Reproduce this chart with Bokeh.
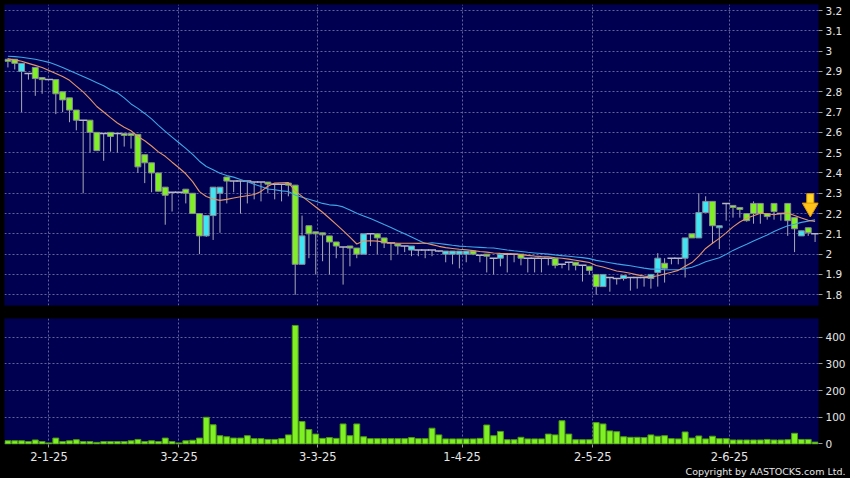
import pandas as pd
from bokeh.plotting import figure
from bokeh.layouts import column
from bokeh.models import (ColumnDataSource, FixedTicker, CustomJSTickFormatter,
                          Range1d, Title)
from bokeh.embed import file_html
from bokeh.resources import INLINE

# ---------------- data ----------------
open_ = [2.96, 2.96, 2.90, 2.89, 2.92, 2.87, 2.86, 2.86, 2.80, 2.77,
         2.71, 2.66, 2.66, 2.60, 2.595, 2.60, 2.595, 2.595, 2.595, 2.59,
         2.49, 2.45, 2.40, 2.33, 2.305, 2.305, 2.32, 2.30, 2.20, 2.09,
         2.19, 2.30, 2.38, 2.36, 2.36, 2.36, 2.355, 2.355, 2.355, 2.345,
         2.345, 2.35, 2.34, 1.95, 2.14, 2.11, 2.105, 2.09, 2.06, 2.035,
         2.04, 2.03, 2.00, 2.10, 2.10, 2.08, 2.055, 2.05, 2.04, 2.02,
         2.02, 2.02, 2.02, 2.015, 2.00, 2.00, 2.00, 2.00, 2.015, 1.995,
         2.00, 1.98, 1.98, 2.00, 2.00, 2.00, 1.98, 1.98, 1.98, 1.98,
         1.98, 1.95, 1.96, 1.96, 1.945, 1.94, 1.90, 1.84, 1.885, 1.88,
         1.88, 1.885, 1.885, 1.885, 1.88, 1.91, 1.955, 1.98, 1.98, 1.98,
         2.10, 2.08, 2.205, 2.26, 2.13, 2.25, 2.24, 2.23, 2.20, 2.25,
         2.25, 2.20, 2.25, 2.20, 2.25, 2.18, 2.09, 2.13, 2.10]
high = [2.965, 2.96, 2.94, 2.89, 2.92, 2.87, 2.86, 2.86, 2.80, 2.77,
        2.71, 2.66, 2.66, 2.60, 2.595, 2.60, 2.595, 2.595, 2.595, 2.59,
        2.49, 2.45, 2.40, 2.33, 2.305, 2.305, 2.32, 2.30, 2.20, 2.19,
        2.33, 2.33, 2.38, 2.36, 2.36, 2.36, 2.355, 2.355, 2.355, 2.345,
        2.345, 2.35, 2.34, 2.19, 2.14, 2.11, 2.105, 2.09, 2.06, 2.035,
        2.04, 2.03, 2.10, 2.10, 2.10, 2.08, 2.055, 2.05, 2.04, 2.04,
        2.02, 2.02, 2.02, 2.015, 2.015, 2.015, 2.015, 2.015, 2.015, 1.995,
        2.00, 1.98, 2.00, 2.00, 2.00, 2.00, 1.98, 1.98, 1.98, 1.98,
        1.98, 1.95, 1.96, 1.96, 1.945, 1.94, 1.90, 1.90, 1.885, 1.88,
        1.895, 1.885, 1.885, 1.885, 1.90, 2.005, 1.98, 1.98, 1.98, 2.08,
        2.10, 2.30, 2.285, 2.26, 2.14, 2.25, 2.24, 2.23, 2.20, 2.26,
        2.25, 2.20, 2.25, 2.20, 2.25, 2.18, 2.115, 2.13, 2.10]
low = [2.92, 2.91, 2.70, 2.86, 2.78, 2.79, 2.86, 2.69, 2.70, 2.65,
       2.61, 2.30, 2.50, 2.51, 2.46, 2.505, 2.50, 2.53, 2.52, 2.40,
       2.35, 2.305, 2.31, 2.145, 2.21, 2.30, 2.25, 2.20, 2.00, 2.085,
       2.07, 2.105, 2.25, 2.305, 2.20, 2.25, 2.27, 2.26, 2.30, 2.27,
       2.26, 2.285, 1.80, 1.95, 1.98, 1.90, 1.965, 1.90, 1.98, 1.85,
       1.94, 1.98, 2.00, 2.04, 2.00, 2.03, 1.97, 2.00, 2.01, 1.99,
       1.99, 1.98, 1.99, 2.01, 1.96, 1.95, 1.93, 1.96, 1.995, 1.96,
       1.91, 1.90, 1.94, 1.91, 1.96, 1.945, 1.91, 1.91, 1.91, 1.945,
       1.93, 1.93, 1.92, 1.92, 1.865, 1.90, 1.80, 1.84, 1.815, 1.85,
       1.87, 1.82, 1.83, 1.84, 1.83, 1.84, 1.86, 1.95, 1.95, 1.885,
       2.08, 2.08, 2.205, 2.05, 2.025, 2.165, 2.18, 2.18, 2.16, 2.15,
       2.15, 2.17, 2.17, 2.165, 2.09, 2.01, 2.09, 2.09, 2.06]
close_ = [2.95, 2.94, 2.94, 2.89, 2.865, 2.86, 2.86, 2.79, 2.76, 2.71,
          2.66, 2.66, 2.60, 2.51, 2.595, 2.58, 2.595, 2.585, 2.585, 2.43,
          2.45, 2.40, 2.31, 2.29, 2.305, 2.305, 2.30, 2.20, 2.09, 2.19,
          2.33, 2.33, 2.36, 2.36, 2.36, 2.36, 2.355, 2.355, 2.345, 2.345,
          2.345, 2.34, 1.95, 2.09, 2.10, 2.10, 2.095, 2.06, 2.04, 2.035,
          2.03, 2.00, 2.10, 2.10, 2.08, 2.055, 2.055, 2.04, 2.04, 2.04,
          2.02, 2.02, 2.02, 2.015, 2.015, 2.015, 2.015, 2.015, 2.00, 1.995,
          1.99, 1.98, 2.00, 2.00, 2.00, 1.98, 1.98, 1.98, 1.98, 1.98,
          1.945, 1.95, 1.96, 1.945, 1.945, 1.92, 1.84, 1.90, 1.885, 1.88,
          1.895, 1.885, 1.885, 1.885, 1.90, 1.98, 1.93, 1.98, 1.98, 2.08,
          2.08, 2.205, 2.26, 2.14, 2.14, 2.25, 2.23, 2.22, 2.165, 2.20,
          2.20, 2.185, 2.21, 2.20, 2.165, 2.125, 2.115, 2.105, 2.10]
volume = [12, 12, 12, 9, 15, 9, 4, 22, 9, 12,
          16, 9, 9, 6, 9, 9, 9, 9, 12, 17,
          9, 12, 9, 22, 9, 4, 12, 14, 22, 100,
          72, 31, 27, 22, 22, 31, 20, 20, 17, 17,
          20, 34, 444, 84, 54, 37, 21, 24, 21, 75,
          31, 75, 27, 20, 20, 20, 20, 20, 20, 24,
          20, 20, 59, 34, 19, 19, 19, 19, 19, 21,
          71, 31, 47, 16, 16, 25, 19, 19, 19, 37,
          34, 87, 37, 16, 16, 16, 80, 75, 49, 46,
          27, 25, 25, 24, 34, 29, 31, 20, 19, 45,
          22, 30, 19, 29, 20, 20, 15, 15, 15, 15,
          15, 17, 15, 15, 16, 40, 17, 17, 7]
# moving-average values read off the chart where the window is not yet full
ma10_head = [2.962, 2.957, 2.95, 2.94, 2.93, 2.92, 2.905, 2.89, 2.875]
ma20_head = [2.975, 2.973, 2.97, 2.965, 2.96, 2.953, 2.945, 2.933, 2.92,
             2.905, 2.89, 2.875, 2.86, 2.845, 2.83, 2.81, 2.795, 2.77, 2.74]

date_tick_pos = [6, 25, 45.3, 66.4, 85.5, 105.5]
date_tick_labels = ["2-1-25", "3-2-25", "3-3-25", "1-4-25", "2-5-25", "2-6-25"]
price_ticks = [1.8, 1.9, 2.0, 2.1, 2.2, 2.3, 2.4, 2.5, 2.6, 2.7, 2.8, 2.9,
               3.0, 3.1, 3.2]
volume_ticks = [0, 100, 200, 300, 400]

# ---------------- styling ----------------
NAVY = "#000050"
GRID = "#62629A"
TXT = "#E6E6E6"
GREEN = "#7FF024"
CYAN = "#3DE6F2"
OUTLINE = "#8A8A96"
WICK = "#A8A8B8"
MA10_C = "#E4956A"
MA20_C = "#3FA6E6"
FONT = "DejaVu Sans"

n = len(close_)
idx = list(range(n))
cs = pd.Series(close_, dtype=float)
ma10 = cs.rolling(10).mean().tolist()
ma20 = cs.rolling(20).mean().tolist()
ma10[:len(ma10_head)] = ma10_head
ma20[:len(ma20_head)] = ma20_head

body = [(i, o, c) for i, o, c in zip(idx, open_, close_) if o != c]
doji = [(i, c) for i, o, c in zip(idx, open_, close_) if o == c]
body_src = ColumnDataSource(dict(
    x=[b[0] for b in body],
    top=[max(b[1], b[2]) for b in body],
    bottom=[min(b[1], b[2]) for b in body],
    color=[CYAN if b[2] > b[1] else GREEN for b in body]))
doji_src = ColumnDataSource(dict(x=[d[0] for d in doji], y=[d[1] for d in doji]))
wick_src = ColumnDataSource(dict(x=idx, high=high, low=low))
ma_src = ColumnDataSource(dict(x=idx, ma10=ma10, ma20=ma20))
vol_src = ColumnDataSource(dict(x=idx, v=volume))

xr = Range1d(-0.5, n - 0.5)


def style(fig):
    fig.background_fill_color = NAVY
    fig.border_fill_color = "black"
    fig.outline_line_color = None
    for g in (fig.xgrid, fig.ygrid):
        g.grid_line_color = GRID
        g.grid_line_dash = "2 2"
        g.grid_line_width = 1
    ax = fig.yaxis[0]
    ax.axis_line_color = None
    ax.major_tick_line_color = "#9A9A9A"
    ax.major_tick_out = 4
    ax.major_tick_in = 0
    ax.minor_tick_line_color = None
    ax.major_label_text_color = TXT
    ax.major_label_text_font = FONT
    ax.major_label_text_font_size = "10.5px"
    ax.major_label_standoff = 3


# ---------------- price panel ----------------
p = figure(width=850, height=310, x_range=xr, y_range=Range1d(1.747, 3.23),
           y_axis_location="right", output_backend="svg", toolbar_location=None,
           min_border_left=4, min_border_right=32, min_border_top=4,
           min_border_bottom=5)
style(p)
p.xaxis.visible = False
p.xgrid.ticker = FixedTicker(ticks=date_tick_pos)
p.yaxis.ticker = FixedTicker(ticks=price_ticks)
p.yaxis.formatter = CustomJSTickFormatter(code="return String(Math.round(tick * 10) / 10);")

p.segment(x0="x", y0="high", x1="x", y1="low", source=wick_src,
          line_color=WICK, line_width=1)
p.vbar(x="x", top="top", bottom="bottom", width=0.86, source=body_src,
       fill_color="color", line_color=OUTLINE, line_width=1)
p.scatter(x="x", y="y", source=doji_src, marker="dash", size=8,
          line_color="#B8B8C4", line_width=1.5)
p.line(x="x", y="ma20", source=ma_src, line_color=MA20_C, line_width=1.1)
p.line(x="x", y="ma10", source=ma_src, line_color=MA10_C, line_width=1.1)

# latest-value marker (yellow down arrow) placed over the end of the averages
tip = max(ma10[-1], ma20[-1]) + 0.02
arrow_src = ColumnDataSource(dict(x=[n - 1.7], shaft=[tip + 0.082], head=[tip + 0.04]))
p.rect(x="x", y="shaft", width=7, height=11, width_units="screen",
       height_units="screen", source=arrow_src, fill_color="#FFD42A",
       line_color="#E0A000")
p.scatter(x="x", y="head", source=arrow_src, marker="inverted_triangle",
          size=16, fill_color="#FFC21A", line_color="#E09A00")

# ---------------- volume panel ----------------
v = figure(width=850, height=168, x_range=xr, y_range=Range1d(-2, 470),
           y_axis_location="right", output_backend="svg", toolbar_location=None,
           min_border_left=4, min_border_right=32, min_border_top=8,
           min_border_bottom=34)
style(v)
v.yaxis.ticker = FixedTicker(ticks=volume_ticks)
v.xaxis.ticker = FixedTicker(ticks=date_tick_pos)
v.xaxis.formatter = CustomJSTickFormatter(args=dict(labels=date_tick_labels),
                                          code="return labels[index];")
xa = v.xaxis[0]
xa.axis_line_color = None
xa.major_tick_line_color = "#9A9A9A"
xa.major_tick_out = 3
xa.major_tick_in = 0
xa.minor_tick_line_color = None
xa.major_label_text_color = TXT
xa.major_label_text_font = FONT
xa.major_label_text_font_size = "11.5px"
xa.major_label_standoff = 4

v.vbar(x="x", top="v", bottom=0, width=0.86, source=vol_src,
       fill_color=GREEN, line_color="#4E9A12", line_width=1)

copyright_title = Title(text="Copyright by AASTOCKS.com Ltd.", align="right",
                        text_color=TXT, text_font=FONT, text_font_size="9.5px",
                        text_font_style="normal", standoff=0, offset=-27)
v.add_layout(copyright_title, "below")

layout = column(p, v, spacing=0)
layout.styles = {"background-color": "black"}

open("out.html", "w").write(file_html(layout, INLINE))
